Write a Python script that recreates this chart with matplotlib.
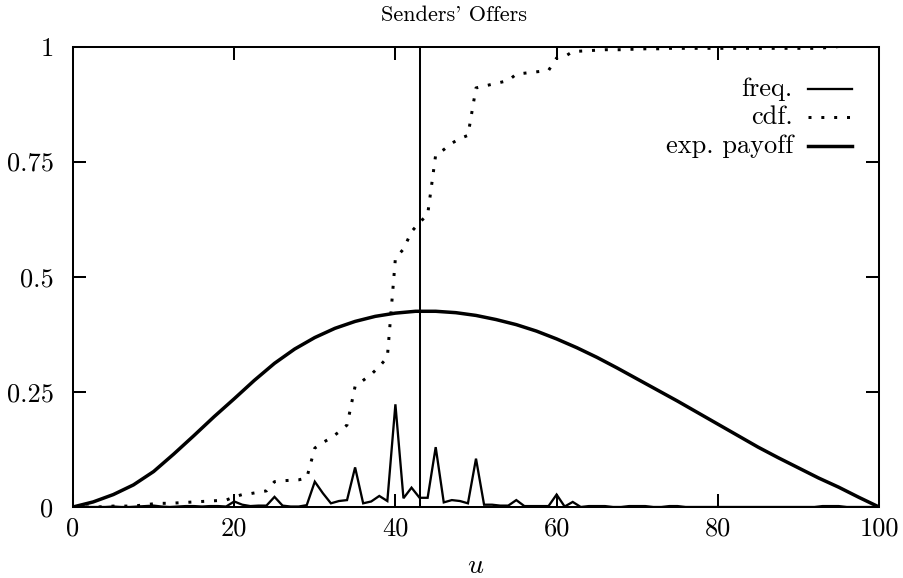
import numpy as np
import matplotlib
matplotlib.use("Agg")
import matplotlib.pyplot as plt

plt.rcParams['font.family'] = ['cmr10', 'DejaVu Serif']
plt.rcParams['mathtext.fontset'] = 'cm'
plt.rcParams['axes.formatter.use_mathtext'] = True

# ---------------- data ----------------
u_int = list(range(0, 101))

freq = [0, 0, 0, 0, 0, 0.001, 0, 0, 0.001, 0.002,
        0.003, 0.001, 0, 0.001, 0.002, 0.002, 0.001, 0.002, 0.002, 0.001,
        0.012, 0.005, 0.002, 0.003, 0.003, 0.022, 0.003, 0.001, 0.001, 0.004,
        0.055, 0.030, 0.008, 0.013, 0.015, 0.086, 0.008, 0.012, 0.024, 0.013,
        0.223, 0.019, 0.042, 0.020, 0.020, 0.130, 0.010, 0.015, 0.013, 0.008,
        0.105, 0.005, 0.005, 0.003, 0.003, 0.015, 0.002, 0.002, 0.002, 0.002,
        0.027, 0.001, 0.011, 0, 0.002, 0.002, 0.002, 0, 0, 0.002,
        0.002, 0.002, 0, 0, 0.002, 0.002, 0, 0, 0, 0,
        0, 0, 0, 0, 0, 0, 0, 0, 0, 0,
        0, 0, 0, 0.002, 0.002, 0.002, 0, 0, 0, 0,
        0]

cdf = [0.000, 0.000, 0.000, 0.000, 0.001, 0.002, 0.002, 0.002, 0.003, 0.005,
       0.007, 0.008, 0.008, 0.009, 0.010, 0.011, 0.012, 0.013, 0.014, 0.015,
       0.022, 0.027, 0.029, 0.032, 0.035, 0.055, 0.057, 0.058, 0.059, 0.063,
       0.128, 0.140, 0.150, 0.163, 0.178, 0.262, 0.275, 0.288, 0.305, 0.325,
       0.540, 0.560, 0.598, 0.618, 0.635, 0.765, 0.776, 0.790, 0.800, 0.807,
       0.910, 0.914, 0.918, 0.922, 0.926, 0.940, 0.942, 0.944, 0.946, 0.948,
       0.975, 0.978, 0.989, 0.990, 0.991, 0.992, 0.993, 0.993, 0.993, 0.994,
       0.994, 0.995, 0.995, 0.995, 0.996, 0.996, 0.996, 0.996, 0.996, 0.996,
       0.996, 0.996, 0.996, 0.996, 0.996, 0.996, 0.996, 0.996, 0.996, 0.996,
       0.996, 0.996, 0.996, 0.997, 0.998, 1.000, 1.000, 1.000, 1.000, 1.000,
       1.000]

u_pay = [0, 2.5, 5, 7.5, 10, 12.5, 15, 17.5, 20, 22.5, 25, 27.5, 30, 32.5,
         35, 37.5, 40, 42.5, 45, 47.5, 50, 52.5, 55, 57.5, 60, 62.5, 65, 67.5,
         70, 72.5, 75, 77.5, 80, 82.5, 85, 87.5, 90, 92.5, 95, 97.5, 100]
payoff = [0.000, 0.011, 0.027, 0.048, 0.077, 0.115, 0.155, 0.196, 0.235,
          0.275, 0.312, 0.343, 0.368, 0.388, 0.403, 0.414, 0.421, 0.425,
          0.425, 0.422, 0.416, 0.407, 0.396, 0.382, 0.365, 0.346, 0.325,
          0.302, 0.278, 0.254, 0.230, 0.205, 0.180, 0.155, 0.130, 0.107,
          0.085, 0.063, 0.043, 0.021, 0.000]

vline_u = 43

x_ticks = [0, 20, 40, 60, 80, 100]
x_ticklabels = ["0", "20", "40", "60", "80", "100"]
y_ticks = [0, 0.25, 0.5, 0.75, 1]
y_ticklabels = ["0", "0.25", "0.5", "0.75", "1"]

title = "Senders' Offers"
legend_labels = ["freq.", "cdf.", "exp. payoff"]

# ---------------- figure ----------------
W, H = 904, 578
fig = plt.figure(figsize=(W / 100, H / 100), dpi=100)
ax = fig.add_axes([73 / W, 1 - 507 / H, (879 - 73) / W, (507 - 46.5) / H])

lw_freq = 1.65
lw_cdf = 2.15
lw_pay = 2.5
cdf_style = (0, (1.0, 3.3))

ax.plot(u_int, freq, color='black', lw=lw_freq, solid_joinstyle='miter')
ax.plot(u_int, cdf, color='black', lw=lw_cdf, linestyle=cdf_style,
        dash_capstyle='butt')
ax.plot(u_pay, payoff, color='black', lw=lw_pay)
ax.axvline(vline_u, color='black', lw=1.45)

ax.set_xlim(0, 100)
ax.set_ylim(0, 1)
ax.set_xticks(x_ticks)
ax.set_xticklabels(x_ticklabels)
ax.set_yticks(y_ticks)
ax.set_yticklabels(y_ticklabels)
ax.tick_params(direction='in', length=9.4, width=1.45, top=True, right=True,
               labelsize=19)
ax.tick_params(axis='x', pad=7)
ax.tick_params(axis='y', pad=14)
for s in ax.spines.values():
    s.set_linewidth(1.45)

ax.set_xlabel("$u$", fontsize=20, labelpad=9)
fig.text(454 / W, 1 - 15 / H, title, ha='center', va='center', fontsize=16)

# gnuplot-style key: right-justified text, sample to the right
key_x_text = 89.3
key_x0, key_x1 = 91.2, 96.65
key_y = [0.907, 0.846, 0.783]
styles = [dict(lw=lw_freq, linestyle='-'),
          dict(lw=lw_cdf, linestyle=cdf_style, dash_capstyle='butt'),
          dict(lw=lw_pay, linestyle='-')]
for lab, yy, st in zip(legend_labels, key_y, styles):
    ax.text(key_x_text, yy, lab, ha='right', va='center', fontsize=19)
    ax.plot([key_x0, key_x1], [yy, yy], color='black', **st)

fig.savefig("out.png", dpi=100)
